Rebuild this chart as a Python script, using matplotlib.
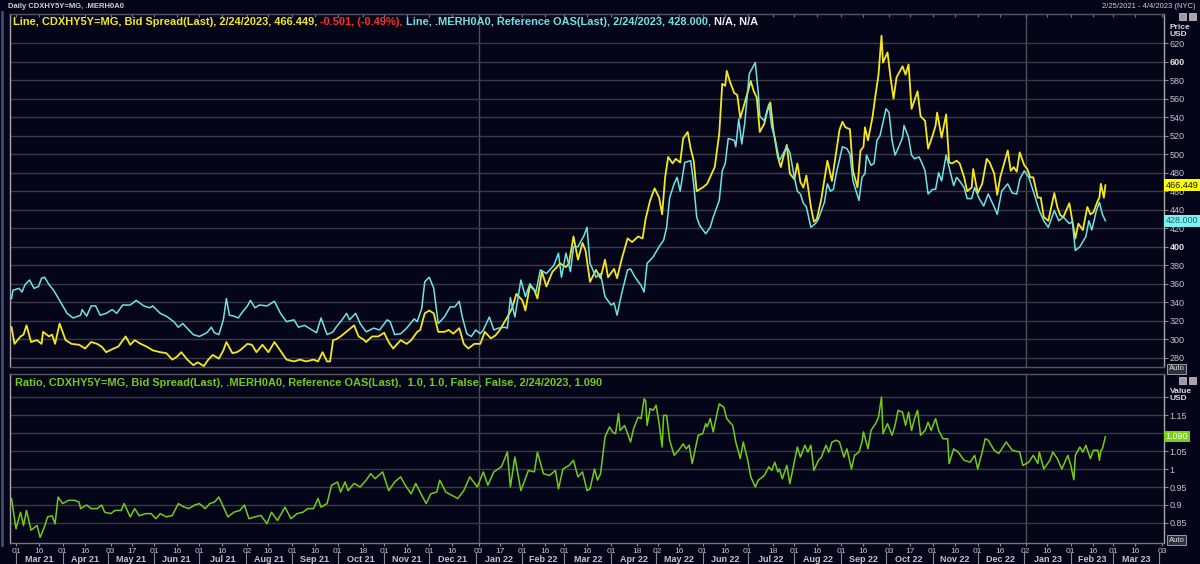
import pandas as pd
import matplotlib
matplotlib.use('Agg')
import matplotlib.pyplot as plt
from matplotlib.offsetbox import TextArea, HPacker, AnchoredOffsetbox
from matplotlib.transforms import blended_transform_factory
from matplotlib.patches import Rectangle

plt.rcParams['font.family'] = ['Liberation Sans', 'DejaVu Sans']

BASE = pd.Timestamp('2021-03-01')

# CDXHY5Y=MG bid spread (days after BASE, value)
cdx_day = [-3, -1, 3, 5, 7, 10, 14, 17, 18, 22, 24, 26, 29, 33, 37, 42, 46, 50, 54, 57, 60, 65, 68, 73, 76,
           79, 83, 87, 91, 96, 100, 104, 107, 110, 114, 118, 121, 125, 128, 131, 135, 138, 140, 144, 147, 149,
           154, 157, 160, 164, 168, 172, 177, 180, 185, 189, 193, 198, 201, 204, 207, 209, 211, 213, 216, 219,
           225, 228, 231, 233, 237, 241, 245, 248, 251,
           256, 260, 263, 267, 269, 272, 275, 278, 281, 285, 288, 291, 295, 298, 301, 305, 309, 312, 316, 319,
           322, 327, 330, 333, 337, 339, 342, 345, 347, 350, 353, 357, 360, 362, 366, 368, 371, 374, 377, 379,
           382, 386, 389, 392, 394, 398, 400, 403, 407, 410, 414, 417, 419, 422, 425, 428, 430, 432, 434, 437,
           439, 442, 444, 447, 449, 451, 453, 457, 460, 463, 465, 468, 470, 472, 473, 475, 478, 480, 482, 484,
           489, 491, 493, 495, 498, 500, 502, 504, 507, 509, 511, 513,
           515, 518, 520, 522, 524, 526, 529, 531, 533, 536, 540, 543, 545, 548, 550, 552, 555, 557, 560, 562,
           564, 565, 567, 570, 572, 574, 576, 577, 580, 582, 584, 586, 590, 592, 594, 596, 600, 602, 605, 607,
           610, 612, 613, 616, 619, 621, 623, 626, 628, 631, 633, 636, 637, 640, 643, 646, 648, 651, 653, 655,
           660, 662, 664, 666, 668, 671, 673, 675, 677, 680, 682, 684, 687, 691, 693, 695, 697, 701, 703, 705,
           707, 710, 713, 715, 717, 720, 721, 722, 724, 725]
cdx_val = [313, 295, 303, 305, 315, 297, 299, 295, 308, 303, 305, 295, 317, 299, 295, 294, 290, 297, 295, 292,
           286, 290, 292, 303, 294, 299, 295, 292, 288, 286, 285, 278, 281, 286, 278, 272, 275, 271, 278, 283,
           279, 288, 297, 285, 286, 288, 295, 294, 286, 294, 286, 297, 285, 278, 276, 278, 276, 278, 276, 286,
           276, 276, 299, 300, 303, 307, 315, 303, 300, 297, 303, 303, 307, 297, 290,
           299, 295, 299, 308, 310, 328, 331, 328, 308, 308, 310, 306, 312, 295, 290, 295, 295, 308, 301, 304,
           310, 324, 333, 349, 342, 331, 358, 353, 344, 373, 357, 373, 378, 382, 378, 382, 411, 386, 404, 396,
           362, 375, 366, 386, 367, 376, 366, 386, 409, 405, 411, 409, 430, 450, 463, 453, 435, 475, 497, 490,
           495, 491, 517, 524, 506, 493, 460, 464, 468, 479, 486, 522, 576, 574, 590, 579, 566, 564, 539, 550,
           579, 568, 561, 524, 533, 547, 556, 526, 497, 486, 499, 510,
           479, 473, 490, 470, 464, 477, 443, 427, 430, 452, 493, 471, 493, 526, 535, 529, 527, 482, 464, 504,
           508, 529, 515, 540, 564, 586, 628, 599, 610, 583, 560, 583, 595, 586, 597, 549, 568, 541, 536, 506,
           520, 531, 545, 518, 543, 491, 490, 493, 490, 475, 460, 464, 484, 458, 468, 495, 491, 479, 456, 475,
           504, 482, 486, 481, 502, 488, 484, 475, 475, 453, 453, 432, 428, 458, 443, 434, 432, 447, 428, 409,
           425, 418, 443, 435, 437, 450, 453, 468, 453, 466.449]

# .MERH0A0 reference OAS
oas_day = [-3, -2, 2, 4, 6, 9, 12, 15, 17, 19, 22, 25, 29, 34, 38, 43, 44, 47, 50, 53, 56, 60, 64, 67, 71,
           76, 80, 85, 89, 91, 96, 100, 105, 108, 111, 115, 118, 122, 127, 130, 132, 135, 138, 140, 142, 145,
           148, 150, 154, 156, 159, 162, 167, 170, 172, 176, 180, 185, 188, 192, 197, 200, 203, 207, 211, 213,
           217, 220, 222, 226, 229, 233, 238, 242, 247, 249, 252,
           256, 260, 265, 267, 270, 272, 275, 278, 281, 285, 289, 292, 295, 297, 300, 303, 306, 309, 311, 315,
           318, 321, 325, 327, 329, 332, 336, 339, 342, 346, 349, 353, 358, 361, 363, 366, 369, 371, 374, 378,
           380, 382, 386, 389, 392, 396, 398, 400, 403, 407, 409, 412, 416, 418, 420, 424, 428, 431, 433, 435,
           438, 440, 442, 445, 449, 451, 453, 455, 459, 462, 464, 468, 470, 472, 474, 478, 479, 481, 483, 485,
           488, 490, 492, 494, 495, 498, 501, 503, 505, 508, 510, 513,
           515, 518, 520, 522, 524, 526, 529, 532, 534, 538, 540, 542, 544, 546, 550, 553, 555, 557, 561, 563,
           565, 566, 569, 571, 573, 575, 579, 581, 583, 585, 587, 590, 591, 594, 596, 598, 601, 603, 605, 607,
           610, 612, 614, 616, 619, 622, 624, 626, 628, 631, 633, 636, 638, 641, 644, 647, 651, 653, 656, 660,
           663, 666, 668, 671, 674, 677, 681, 684, 687, 691, 694, 697, 701, 703, 705, 708, 712, 714, 716, 719,
           721, 723, 725]
oas_val = [344, 353, 355, 351, 359, 364, 355, 357, 366, 367, 359, 353, 342, 328, 323, 326, 332, 325, 336, 336,
           326, 328, 332, 328, 337, 337, 342, 336, 334, 336, 328, 325, 319, 313, 317, 310, 305, 303, 307, 313,
           307, 305, 321, 344, 326, 325, 323, 328, 336, 342, 334, 337, 336, 339, 341, 328, 319, 321, 313, 315,
           310, 307, 323, 305, 308, 313, 321, 328, 321, 328, 317, 308, 312, 310, 321, 319, 305,
           306, 312, 322, 319, 333, 362, 367, 355, 317, 324, 335, 335, 341, 324, 306, 303, 310, 306, 310, 324,
           310, 312, 313, 312, 345, 324, 364, 346, 360, 351, 375, 371, 380, 393, 367, 393, 373, 400, 400, 412,
           421, 382, 367, 371, 346, 337, 339, 326, 349, 375, 376, 367, 358, 351, 382, 389, 400, 407, 421, 453,
           468, 475, 460, 491, 493, 468, 432, 423, 414, 421, 432, 450, 482, 490, 517, 515, 508, 538, 511, 534,
           587, 593, 599, 566, 541, 536, 554, 529, 518, 493, 499, 508,
           502, 475, 460, 457, 447, 443, 421, 425, 430, 448, 468, 460, 462, 480, 508, 506, 500, 471, 450, 475,
           479, 499, 488, 490, 515, 520, 549, 545, 515, 499, 506, 518, 531, 518, 499, 495, 497, 490, 482, 457,
           462, 462, 480, 471, 499, 479, 466, 475, 471, 464, 452, 452, 464, 452, 444, 457, 443, 435, 460, 468,
           458, 457, 473, 482, 475, 460, 439, 428, 421, 439, 428, 432, 425, 427, 396, 400, 411, 428, 418, 439,
           448, 435, 428.0]

# Ratio CDXHY5Y=MG / .MERH0A0
ratio_day = [-3, 0, 3, 5, 7, 10, 14, 16, 19, 21, 24, 26, 28, 31, 35, 39, 42, 43, 47, 50, 54, 57, 59, 63, 66,
             70, 72, 76, 79, 82, 86, 90, 93, 96, 100, 104, 108, 112, 115, 119, 122, 126, 129, 132, 135, 137,
             141, 145, 149, 152, 155, 159, 163, 167, 170, 174, 179, 183, 187, 191, 194, 198, 201, 203, 207, 210,
             214, 216, 219, 221, 225, 229, 233, 236, 239, 244, 248, 252, 256, 259, 263, 266, 270, 273, 276, 280,
             282, 286, 290, 294, 298, 302, 307, 311, 314, 318, 323, 327, 329, 332, 336, 341, 345, 347, 351, 355,
             359, 361, 364, 368, 371, 374, 377, 380,
             382, 385, 387, 389, 392, 395, 397, 399, 401, 402, 405, 407, 409, 411, 414, 416, 418, 419, 420, 422,
             424, 426, 428, 430, 431, 433, 435, 438, 441, 444, 446, 448, 450, 454, 457, 459, 460, 462, 464, 466,
             468, 471, 473, 477, 479, 482, 484, 487, 489, 492, 494, 498, 501, 503, 505, 507, 508, 510, 513, 515,
             517, 520, 522, 525, 527, 529, 531, 534, 536, 539, 541, 543, 546, 548, 551, 553, 556, 558, 561, 563,
             564, 567, 569, 572, 574, 576, 577, 580, 583, 585, 587, 590, 592, 594, 596, 598, 600, 602, 605, 607,
             609, 612, 614, 617, 620, 621, 624, 627, 631, 635, 638, 640, 643, 645, 647, 651, 654, 659, 663, 668,
             670, 674, 677, 680, 681, 684, 688, 690, 693, 696, 700, 702, 704, 705, 708, 710, 712, 715, 717, 720,
             721, 722, 723, 725]
ratio_val = [0.918, 0.834, 0.88, 0.843, 0.885, 0.83, 0.843, 0.81, 0.84, 0.867, 0.87, 0.848, 0.922, 0.904, 0.913,
             0.913, 0.908, 0.89, 0.9, 0.89, 0.89, 0.9, 0.88, 0.876, 0.885, 0.885, 0.904, 0.867, 0.89, 0.87,
             0.876, 0.876, 0.862, 0.876, 0.867, 0.871, 0.904, 0.894, 0.89, 0.9, 0.904, 0.89, 0.904, 0.908, 0.922,
             0.904, 0.867, 0.88, 0.885, 0.9, 0.862, 0.867, 0.871, 0.848, 0.88, 0.857, 0.894, 0.862, 0.876, 0.88,
             0.89, 0.89, 0.918, 0.894, 0.904, 0.955, 0.964, 0.936, 0.964, 0.94, 0.96, 0.95, 0.969, 0.987, 0.973,
             0.992, 0.94, 0.964, 0.978, 0.955, 0.931, 0.96, 0.927, 0.904, 0.931, 0.936, 0.969, 0.936, 0.927,
             0.918, 0.94, 0.978, 0.95, 0.992, 0.955, 0.992, 1.006, 1.047, 0.95, 1.033, 0.94, 0.996, 0.992, 1.047,
             0.987, 0.982, 0.996, 0.945, 1.0, 1.01, 1.024, 0.978, 0.992, 0.94,
             0.945, 1.0, 0.969, 0.987, 1.089, 1.117, 1.103, 1.098, 1.154, 1.107, 1.121, 1.098, 1.075, 1.112,
             1.144, 1.14, 1.195, 1.19, 1.121, 1.168, 1.163, 1.177, 1.126, 1.061, 1.149, 1.149, 1.08, 1.038,
             1.052, 1.07, 1.056, 1.066, 1.015, 1.094, 1.098, 1.126, 1.117, 1.14, 1.103, 1.144, 1.181, 1.172,
             1.14, 1.121, 1.075, 1.029, 1.075, 1.024, 0.978, 0.95, 0.969, 0.982, 1.006, 0.996, 1.019, 0.992, 1.0,
             0.973, 1.01, 0.959, 1.0, 1.061, 1.033, 1.066, 1.047, 1.066, 0.996, 1.024, 1.033, 1.066, 1.047,
             1.075, 1.08, 1.075, 1.033, 1.056, 1.0, 1.038, 1.047, 1.075, 1.103, 1.056, 1.107, 1.126, 1.144, 1.2,
             1.098, 1.126, 1.094, 1.121, 1.163, 1.158, 1.121, 1.158, 1.107, 1.14, 1.163, 1.094, 1.107, 1.13,
             1.107, 1.14, 1.107, 1.084, 1.084, 1.015, 1.056, 1.047, 1.024, 1.019, 1.038, 1.0, 1.047, 1.084, 1.08,
             1.052, 1.043, 1.075, 1.052, 1.047, 1.01, 1.019, 1.038, 1.015, 1.047, 1.0, 1.024, 1.047, 1.029, 1.0,
             1.038, 1.01, 0.97, 1.038, 1.061, 1.047, 1.066, 1.029, 1.052, 1.052, 1.024, 1.052, 1.056, 1.09]

price_ticks = [280, 300, 320, 340, 360, 380, 400, 420, 440, 460, 480, 500, 520, 540, 560, 580, 600, 620]
ratio_ticks = [0.85, 0.9, 0.95, 1.0, 1.05, 1.1, 1.15, 1.2]
ratio_labels = ['0.85', '0.9', '0.95', '1', '1.05', '', '1.15', '']   # 1.1 sits under the last-value tag
year_lines = ['2022-01-03', '2023-01-02']

BG = '#05051a'
YEL = '#f4e81c'
CYA = '#6fe3e3'
GRN = '#72cc14'
RED = '#ff2b2b'
GRID = '#3a3a46'
TXT = '#c4c4c8'


def to_dates(days):
    return BASE + pd.to_timedelta(days, unit='D')


W, H = 1200, 564
fig = plt.figure(figsize=(12, 5.64), dpi=100, facecolor=BG)


def fx(px):
    return px / W


def fy(py):
    return 1 - py / H


ax1 = fig.add_axes([fx(10), fy(367), fx(1154), (367 - 14) / H])
ax2 = fig.add_axes([fx(10), fy(543), fx(1154), (543 - 374) / H])

xmin, xmax = pd.Timestamp('2021-02-25'), pd.Timestamp('2023-04-04')

ax1.plot(to_dates(cdx_day), cdx_val, color=YEL, lw=1.3, zorder=3)
ax1.plot(to_dates(oas_day), oas_val, color=CYA, lw=1.1, zorder=3)
ax2.plot(to_dates(ratio_day), ratio_val, color=GRN, lw=1.1, zorder=3)

ax1.set_ylim(270, 651.5)
ax2.set_ylim(0.7944, 1.264)

# half-month ticks on the first weekday on/after the 1st and 16th
tick_dates = []
for m in pd.date_range('2021-03-01', '2023-04-01', freq='MS'):
    for d in (1, 16):
        t = pd.offsets.BDay().rollforward(m + pd.Timedelta(days=d - 1))
        if t <= xmax:
            tick_dates.append(t)
month_starts = pd.date_range('2021-03-01', '2023-04-01', freq='MS')

for ax in (ax1, ax2):
    ax.set_facecolor(BG)
    ax.set_xlim(xmin, xmax)
    ax.set_xticks(tick_dates)
    for d in year_lines:
        ax.axvline(pd.Timestamp(d), color='#4e4e56', lw=1, zorder=1)
    ax.yaxis.tick_right()
    ax.tick_params(axis='y', colors='#8a8a90', labelcolor=TXT, labelsize=6.5, length=3, width=0.8, pad=1)
    ax.grid(axis='y', color=GRID, lw=1, zorder=0)
    for s in ax.spines.values():
        s.set_color('#55555e')
        s.set_linewidth(1)
    ax.spines['left'].set_color('#a8a8ac')
    ax.spines['right'].set_color('#a8a8ac')

ax1.set_yticks(price_ticks)
ax1.set_yticklabels([str(v) for v in price_ticks])
ax1.tick_params(axis='x', labelbottom=False, bottom=False, top=True, direction='in', length=2, colors='#77777d')
for lab in ax1.get_yticklabels():
    if lab.get_text() in ('600', '400'):
        lab.set_fontweight('bold')
        lab.set_color('#e0e0e0')

ax2.set_yticks(ratio_ticks)
ax2.set_yticklabels(ratio_labels)
ax2.tick_params(axis='x', colors='#8a8a90', labelcolor=TXT, labelsize=6, length=2.5, width=0.8, pad=1)
ax2.set_xticklabels([t.strftime('%d') for t in tick_dates])
ax2.spines['bottom'].set_color('#77777d')

# month labels and separators below the day numbers
tr = blended_transform_factory(ax2.transData, fig.transFigure)
for i in range(len(month_starts)):
    m = month_starts[i]
    ax2.plot([m, m], [fy(553), fy(563)], color='#8a8a90', lw=0.8, transform=tr, clip_on=False)
    if i < len(month_starts) - 1:
        mid = m + (month_starts[i + 1] - m) / 2
        ax2.text(mid, fy(559), m.strftime('%b %y'), transform=tr, ha='center', va='center',
                 fontsize=6.5, color=TXT, fontweight='bold')


def rich_title(pieces, x, y):
    boxes = [TextArea(s, textprops=dict(color=c, fontsize=7.9, fontweight='bold')) for s, c in pieces]
    pack = HPacker(children=boxes, align='baseline', pad=0, sep=0)
    fig.add_artist(AnchoredOffsetbox(loc='center left', child=pack, pad=0, borderpad=0, frameon=False,
                                     bbox_to_anchor=(x, y), bbox_transform=fig.transFigure))


rich_title([('Line, CDXHY5Y=MG, Bid Spread(Last), 2/24/2023, 466.449, ', YEL),
            ('-0.501, (-0.49%), ', RED),
            ('Line, .MERH0A0, Reference OAS(Last), 2/24/2023, 428.000, ', CYA),
            ('N/A, N/A', '#f0f0f0')], fx(13), fy(22))
rich_title([('Ratio, CDXHY5Y=MG, Bid Spread(Last), .MERH0A0, Reference OAS(Last),  1.0, 1.0, False, False, '
             '2/24/2023, 1.090', GRN)], fx(15), fy(383))

fig.text(fx(8), fy(7), 'Daily CDXHY5Y=MG, .MERH0A0', fontsize=5.5, color='#d0d0d4', va='center',
         fontweight='bold')
fig.text(fx(1196), fy(7), '2/25/2021 - 4/4/2023 (NYC)', fontsize=5.5, color='#d0d0d4', va='center', ha='right')
fig.text(fx(1170), fy(31), 'Price\nUSD', fontsize=6, color='#d8d8dc', va='center', fontweight='bold',
         linespacing=1.1)
fig.text(fx(1170), fy(395), 'Value\nUSD', fontsize=6, color='#d8d8dc', va='center', fontweight='bold',
         linespacing=1.1)

# last value tags on the price / value axes
for ax, val, txt, fc, tc in [(ax1, cdx_val[-1], '466.449', '#ffff00', '#101010'),
                             (ax1, oas_val[-1], '428.000', '#7ff0f0', '#1a6a6a'),
                             (ax2, ratio_val[-1], '1.090', '#78d21a', '#ffffff')]:
    ax.text(1.0015, val, txt, transform=blended_transform_factory(ax.transAxes, ax.transData),
            fontsize=6.5, color=tc, va='center', ha='left', zorder=5, clip_on=False,
            bbox=dict(boxstyle='square,pad=0.15', fc=fc, ec='none'))

# window decorations
for py in (16, 380):
    fig.add_artist(Rectangle((fx(1179), fy(py) - 4 / H), 7 / W, 7 / H, transform=fig.transFigure,
                             fc='#9a9aa6', ec='#d0d0d8', lw=0.5))
    fig.add_artist(Rectangle((fx(1189), fy(py) - 4 / H), 7 / W, 7 / H, transform=fig.transFigure,
                             fc='#b0a0a8', ec='#d0d0d8', lw=0.5))
for py in (369, 540):
    fig.text(fx(1169), fy(py), 'Auto', fontsize=5.5, color='#e0e0e0', va='center',
             bbox=dict(boxstyle='square,pad=0.2', fc='#30303a', ec='#b0b0b8', lw=0.6))
fig.add_artist(plt.Line2D([fx(2), fx(2)], [fy(545), fy(12)], transform=fig.transFigure, color='#3c4c70', lw=2))

fig.savefig('out.png', dpi=100, facecolor=BG)
